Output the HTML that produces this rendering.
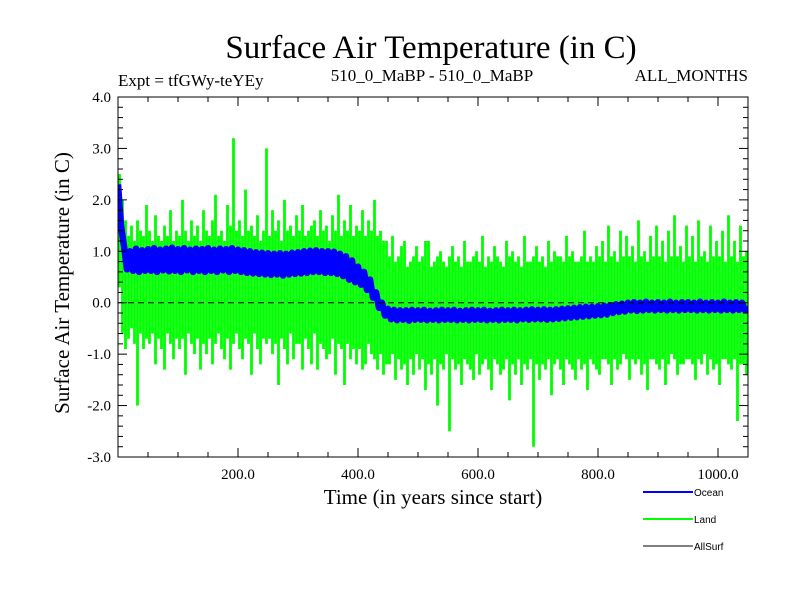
<!DOCTYPE html>
<html><head><meta charset="utf-8"><style>
body{margin:0;background:#fff;}
svg{display:block;}
.serif{font-family:"Liberation Serif",serif;}
.sans{font-family:"Liberation Sans",sans-serif;}
</style></head><body>
<svg id="chart" width="800" height="600">
<rect width="800" height="600" fill="#fff"/>
<text class="serif" x="431" y="58" font-size="33" text-anchor="middle">Surface Air Temperature (in C)</text>
<text class="serif" x="118" y="86" font-size="17">Expt = tfGWy-teYEy</text>
<text class="serif" x="432" y="81" font-size="17" text-anchor="middle">510_0_MaBP - 510_0_MaBP</text>
<text class="serif" x="748" y="81" font-size="17" text-anchor="end">ALL_MONTHS</text>
<text class="serif" x="433" y="504" font-size="21" text-anchor="middle">Time (in years since start)</text>
<text class="serif" font-size="21" text-anchor="middle" transform="translate(69,283) rotate(-90)">Surface Air Temperature (in C)</text>
<g id="plot"></g>
<g id="axes"></g>
<g>
<g><line x1="643" y1="492" x2="693" y2="492" stroke="#0000ff" stroke-width="2"/><text class="sans" x="694" y="496" font-size="10">Ocean</text></g>
<g><line x1="643" y1="519" x2="693" y2="519" stroke="#00ff00" stroke-width="2"/><text class="sans" x="694" y="523" font-size="10">Land</text></g>
<g><line x1="643" y1="546" x2="693" y2="546" stroke="#000" stroke-width="1"/><text class="sans" x="694" y="550" font-size="10">AllSurf</text></g>
</g>
</svg>
<script>
const yearStep = 5;
// Land: per 5-year bin, max and min annual value
const landHigh = [
2.5,2.0,1.6,1.3,1.5,1.2,1.6,1.4,1.3,1.9,
1.4,1.2,1.7,1.3,1.2,1.5,1.3,1.8,1.2,1.4,
1.3,2.0,1.4,1.2,1.6,1.3,1.5,1.2,1.8,1.4,
1.3,1.6,2.1,1.3,1.4,1.2,1.9,1.5,3.2,1.4,
1.6,1.3,2.2,1.4,1.5,1.3,1.7,1.2,1.4,3.0,
1.3,1.8,1.4,1.6,1.2,2.0,1.4,1.5,1.3,1.7,
1.4,1.9,1.3,1.4,1.5,1.6,1.3,1.8,1.4,1.5,
1.2,1.7,1.4,2.1,1.3,1.6,1.4,1.9,1.3,1.5,
1.4,1.8,1.3,1.6,1.4,2.0,1.3,1.4,1.2,1.2,
0.9,1.3,0.8,0.9,1.1,1.2,0.7,0.8,0.9,1.1,
0.8,0.9,1.2,1.2,0.7,0.8,0.9,1.0,0.8,0.7,
0.9,1.1,0.8,0.9,0.7,1.2,0.8,0.8,0.9,1.0,
0.8,1.3,0.7,0.9,0.8,1.1,0.9,0.8,0.7,1.2,
0.9,1.0,0.8,0.9,0.7,1.3,0.8,0.8,0.9,1.1,
0.8,0.9,0.7,1.2,0.8,1.0,0.9,0.9,0.8,1.3,
0.9,1.0,0.8,0.8,0.9,1.4,0.8,0.9,0.8,1.1,
0.9,1.2,0.8,1.5,0.9,1.0,0.8,1.4,0.9,1.3,
0.9,1.1,0.8,1.6,0.9,1.0,0.8,1.3,0.9,1.5,
0.9,1.2,0.8,1.4,0.9,1.7,0.9,1.1,0.8,1.5,
0.9,1.3,0.8,1.6,0.9,1.0,0.8,1.5,0.9,1.2,
0.9,1.4,0.8,1.7,0.9,1.2,0.8,1.5,0.9,1.0];
const landLow = [
0.3,-0.6,-0.9,-0.7,-0.5,-0.8,-2.0,-0.6,-0.9,-0.7,
-0.8,-0.6,-1.2,-0.7,-0.9,-1.3,-0.6,-0.8,-1.1,-0.7,
-0.9,-0.7,-1.4,-0.6,-0.8,-1.0,-0.7,-1.3,-0.8,-1.0,
-0.7,-1.2,-0.8,-0.6,-0.9,-1.1,-0.7,-1.3,-0.8,-0.6,
-0.9,-1.1,-0.7,-0.8,-1.4,-0.6,-0.9,-1.2,-0.7,-0.8,
-0.7,-1.0,-0.8,-1.6,-0.7,-0.9,-1.2,-0.6,-1.1,-0.8,
-0.8,-1.3,-0.7,-0.9,-1.2,-0.6,-1.3,-0.8,-0.9,-1.1,
-1.0,-0.7,-1.4,-0.8,-0.9,-1.6,-0.8,-1.1,-0.9,-1.2,
-0.9,-1.3,-1.2,-0.8,-1.0,-1.1,-1.3,-1.0,-1.4,-1.2,
-1.2,-1.0,-1.5,-1.1,-1.3,-1.2,-1.6,-1.1,-1.4,-1.0,
-1.3,-1.1,-1.7,-1.2,-1.4,-1.1,-2.0,-1.2,-1.3,-1.0,
-2.5,-1.1,-1.3,-1.2,-1.6,-1.1,-1.2,-1.3,-1.5,-1.0,
-1.4,-1.2,-1.1,-1.3,-1.7,-1.1,-1.2,-1.4,-1.3,-1.1,
-1.9,-1.2,-1.4,-1.1,-1.6,-1.2,-1.3,-1.1,-2.8,-1.2,
-1.5,-1.2,-1.3,-1.1,-1.8,-1.2,-1.1,-1.3,-1.6,-1.1,
-1.2,-1.3,-1.5,-1.1,-1.3,-1.2,-1.7,-1.1,-1.2,-1.3,
-1.4,-1.1,-1.1,-1.2,-1.6,-1.1,-1.3,-1.2,-1.0,-1.1,
-1.5,-1.1,-1.2,-1.1,-1.4,-1.2,-1.7,-1.1,-1.1,-1.2,
-1.3,-1.1,-1.6,-1.2,-1.0,-1.1,-1.4,-1.2,-1.2,-1.1,
-1.1,-1.2,-1.5,-1.1,-1.2,-1.0,-1.4,-1.1,-1.3,-1.2,
-1.6,-1.1,-1.1,-1.2,-1.3,-1.1,-2.3,-1.2,-1.2,-1.4];
const oceanValues = [
2.3,1.5,1.1,0.65,1.0,0.62,1.05,0.6,1.02,0.62,
1.04,0.62,1.06,0.6,1.03,0.63,1.05,0.61,1.07,0.62,
1.04,0.6,1.06,0.63,1.03,0.6,1.05,0.62,1.04,0.6,
1.06,0.62,1.03,0.6,1.05,0.63,1.04,0.6,1.06,0.62,
1.03,0.6,1.02,0.58,1.0,0.57,0.98,0.56,0.97,0.55,
0.96,0.54,0.95,0.55,0.96,0.53,0.95,0.55,0.97,0.56,
0.98,0.57,1.0,0.58,1.01,0.6,1.02,0.6,1.0,0.58,
1.0,0.58,0.99,0.56,0.95,0.52,0.9,0.45,0.82,0.4,
0.7,0.35,0.6,0.25,0.45,0.1,0.2,-0.1,0.0,-0.25,
-0.12,-0.32,-0.14,-0.34,-0.15,-0.33,-0.15,-0.35,-0.14,-0.33,
-0.15,-0.33,-0.14,-0.34,-0.16,-0.33,-0.15,-0.34,-0.14,-0.33,
-0.15,-0.33,-0.14,-0.34,-0.16,-0.33,-0.15,-0.34,-0.14,-0.33,
-0.15,-0.33,-0.14,-0.34,-0.16,-0.33,-0.15,-0.34,-0.14,-0.33,
-0.15,-0.33,-0.14,-0.34,-0.15,-0.32,-0.14,-0.33,-0.13,-0.32,
-0.14,-0.32,-0.13,-0.33,-0.14,-0.32,-0.13,-0.31,-0.12,-0.3,
-0.11,-0.29,-0.1,-0.28,-0.09,-0.27,-0.08,-0.26,-0.08,-0.25,
-0.07,-0.24,-0.06,-0.23,-0.05,-0.2,-0.03,-0.18,-0.02,-0.17,
0.0,-0.15,0.01,-0.16,0.0,-0.15,0.02,-0.14,0.0,-0.15,
0.01,-0.14,0.0,-0.15,0.02,-0.14,0.0,-0.15,0.01,-0.14,
0.01,-0.14,0.0,-0.15,0.02,-0.14,0.0,-0.15,0.01,-0.14,
0.0,-0.15,0.02,-0.14,0.0,-0.15,0.01,-0.14,0.0,-0.15,-0.08];
const xTickValues = [200,400,600,800,1000];
const xTickLabels = ["200.0","400.0","600.0","800.0","1000.0"];
const yTickValues = [4,3,2,1,0,-1,-2,-3];
const yTickLabels = ["4.0","3.0","2.0","1.0","0.0","-1.0","-2.0","-3.0"];

const NS="http://www.w3.org/2000/svg";
const L=118,R=748,T=97,B=457, xMin=0,xMax=1050,yMin=-3,yMax=4;
function sx(v){return L+(v-xMin)/(xMax-xMin)*(R-L);}
function sy(v){return B-(v-yMin)/(yMax-yMin)*(B-T);}
function mk(tag,attrs,parent){const e=document.createElementNS(NS,tag);for(const k in attrs)e.setAttribute(k,attrs[k]);parent.appendChild(e);return e;}
const plot=document.getElementById('plot'), axes=document.getElementById('axes');
const clip=mk('clipPath',{id:'pc'},document.getElementById('chart'));
mk('rect',{x:L,y:T,width:R-L,height:B-T},clip);
plot.setAttribute('clip-path','url(#pc)');
let ld='';
landHigh.forEach((h,i)=>{
  const x=sx(i*yearStep+yearStep/2);
  ld+='M'+x.toFixed(1)+' '+sy(landLow[i]).toFixed(1)+'L'+x.toFixed(1)+' '+sy(h).toFixed(1);
});
const lp=mk('path',{d:ld,fill:'none',stroke:'#00ff00','stroke-width':2.8},plot);


const od=oceanValues.map((v,i)=>(i?'L':'M')+sx(i*yearStep).toFixed(1)+' '+sy(v).toFixed(1)).join('');
const op=mk('path',{d:od,fill:'none',stroke:'#0000ff','stroke-width':6.5,'stroke-linejoin':'round'},plot);


const zl=mk('line',{x1:L,x2:R,y1:sy(0),y2:sy(0),stroke:'#000','stroke-width':1,'stroke-dasharray':'6,4'},plot);


const fr=mk('rect',{x:L,y:T,width:R-L,height:B-T,fill:'none',stroke:'#000','stroke-width':1},axes);


for(let yr=50;yr<xMax;yr+=50){
  const major=yr%200===0, len=major?9:5, x=sx(yr);
  mk('line',{x1:x,x2:x,y1:B,y2:B-len,stroke:'#000'},axes);
  mk('line',{x1:x,x2:x,y1:T,y2:T+len,stroke:'#000'},axes);
}
xTickValues.forEach((v,i)=>{
  const t=mk('text',{x:sx(v),y:B+22,'font-size':15,'text-anchor':'middle','class':'serif'},axes);
  t.textContent=xTickLabels[i];
  
  
});
for(let k=-15;k<=20;k++){
  const v=k*0.2; const major=k%5===0; const len=major?9:5; const y=sy(v);
  mk('line',{x1:L,x2:L+len,y1:y,y2:y,stroke:'#000'},axes);
  mk('line',{x1:R,x2:R-len,y1:y,y2:y,stroke:'#000'},axes);
}
yTickValues.forEach((v,i)=>{
  const t=mk('text',{x:L-7,y:sy(v)+5,'font-size':15,'text-anchor':'end','class':'serif'},axes);
  t.textContent=yTickLabels[i];
  
  
});
</script>
</body></html>
